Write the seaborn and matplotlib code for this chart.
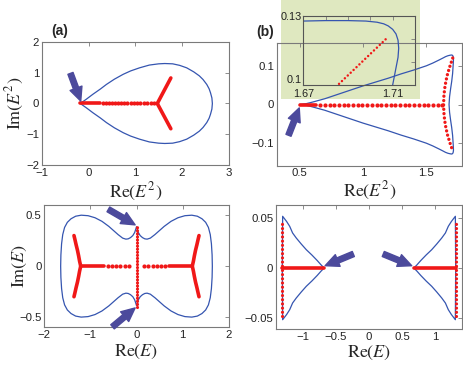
import matplotlib
matplotlib.use("Agg")
import matplotlib.pyplot as plt
import seaborn as sns
from matplotlib.patches import Rectangle

# ---------------- data ----------------
# panel (a): Re(E^2) / Im(E^2)  (upper half of teardrop, mirrored for lower half)
a_blue_x = [-0.18, -0.05, 0.09, 0.25, 0.38, 0.55, 0.74, 0.90, 1.09, 1.30, 1.50, 1.63,
            1.80, 1.95, 2.10, 2.25, 2.37, 2.45, 2.53, 2.58, 2.61, 2.64, 2.65]
a_blue_y = [0.0, 0.14, 0.30, 0.47, 0.62, 0.79, 0.95, 1.06, 1.16, 1.25, 1.29, 1.30,
            1.29, 1.24, 1.16, 1.03, 0.90, 0.78, 0.62, 0.48, 0.35, 0.18, 0.0]
a_red_solid_x = [-0.18, 0.25]
a_red_dots_x = [0.31, 0.375, 0.44, 0.505, 0.57, 0.635, 0.70, 0.765, 0.83, 0.90,
                0.97, 1.04, 1.11, 1.18, 1.25, 1.325, 1.40]
a_red_branch_x = [1.47, 1.76]
a_red_branch_up = [0.0, 0.83]
a_red_branch_dn = [0.0, -0.82]
a_arrow = [(-0.39, 0.98), (-0.17, 0.08)]

# panel (b): Re(E^2) / Im(E^2)
b_blue_x = [0.50, 0.55, 0.60, 0.70, 0.80, 0.90, 1.00, 1.10, 1.20, 1.30, 1.40, 1.50, 1.55,
            1.60, 1.63, 1.65, 1.67, 1.69, 1.70, 1.706, 1.710, 1.7124, 1.7127, 1.7116,
            1.7100, 1.706, 1.699, 1.690, 1.682, 1.678]
b_blue_y = [0.0, 0.002, 0.006, 0.015, 0.026, 0.037, 0.048, 0.058, 0.068, 0.079, 0.089,
            0.100, 0.107, 0.115, 0.120, 0.1235, 0.126, 0.1275, 0.1278, 0.1266, 0.1242,
            0.1195, 0.116, 0.108, 0.100, 0.080, 0.060, 0.040, 0.020, 0.0]
b_red_solid_x = [0.50, 0.63]
b_red_dots_x = [0.665, 0.70, 0.737, 0.774, 0.811, 0.848, 0.885, 0.922, 0.959, 0.996,
                1.033, 1.070, 1.107, 1.144, 1.181, 1.218, 1.255, 1.292, 1.329, 1.366,
                1.403, 1.440, 1.477, 1.514, 1.551, 1.588, 1.625]
b_red_arc_x = [1.707, 1.686, 1.667, 1.653, 1.643, 1.637, 1.635]
b_red_arc_y = [0.12, 0.10, 0.08, 0.06, 0.04, 0.02, 0.0]
b_arrow = [(0.413, -0.0795), (0.4976, -0.0088)]

# inset of panel (b)
ins_blue_x = [1.670, 1.680, 1.690, 1.698, 1.703, 1.706, 1.708, 1.710, 1.7115, 1.7124,
              1.7127, 1.7124, 1.7116, 1.7108, 1.7100]
ins_blue_y = [0.1278, 0.1280, 0.1280, 0.1278, 0.1273, 0.1266, 0.1257, 0.1242, 0.1222,
              0.1195, 0.1160, 0.1120, 0.1080, 0.1040, 0.1000]
ins_red_x = [1.686, 1.707]
ins_red_y = [0.1005, 0.1200]

# panel (c): Re(E) / Im(E)  (first quadrant, mirrored)
c_blue_x = [0.0, 0.04, 0.08, 0.13, 0.18, 0.23, 0.30, 0.40, 0.50, 0.60, 0.75, 0.90, 1.05,
            1.20, 1.32, 1.42, 1.50, 1.56, 1.60, 1.625, 1.64, 1.645]
c_blue_y = [0.385, 0.33, 0.30, 0.28, 0.268, 0.265, 0.275, 0.31, 0.35, 0.39, 0.44, 0.475,
            0.495, 0.50, 0.49, 0.465, 0.43, 0.38, 0.31, 0.22, 0.11, 0.0]
c_red_branch_x = [1.21, 1.235, 1.255, 1.28, 1.31, 1.335, 1.356]
c_red_branch_y = [0.0, 0.05, 0.10, 0.155, 0.21, 0.26, 0.30]
c_red_solid_x = [0.70, 1.21]
c_red_dots_x = [0.17, 0.26, 0.35, 0.44, 0.53, 0.62]
c_red_vert_y = [-0.40, 0.40]
c_arrows = [[(-0.61, 0.557), (-0.03, 0.405)], [(-0.52, -0.595), (-0.03, -0.41)]]

# panel (d): Re(E) / Im(E)  (right part, upper branch; mirrored)
d_blue_x = [0.675, 0.72, 0.78, 0.86, 0.944, 1.02, 1.095, 1.15, 1.194, 1.24, 1.30]
d_blue_y = [0.0, 0.003, 0.0075, 0.013, 0.0183, 0.024, 0.030, 0.035, 0.0417, 0.0465, 0.0517]
d_blue_side_x = 1.305
d_red_solid_x = [0.675, 1.31]
d_red_vert_x = 1.315
d_red_vert_y = [-0.048, 0.048]
d_arrows = [[(-0.236, 0.014), (-0.66, 0.0023)], [(0.215, 0.014), (0.643, 0.0023)]]

# ---------------- style ----------------
sns.set_theme(style="white")
plt.rcParams["font.family"] = ["Liberation Sans", "DejaVu Sans"]
plt.rcParams["mathtext.fontset"] = "stix"

BLUE = "#3555b0"
RED = "#f01818"
ARROW = "#4c4a9c"
SPINE = "#7a7a7a"
W, H = 463, 366

fig = plt.figure(figsize=(W / 100, H / 100), dpi=100)


def fax(l, t, r, b):
    return fig.add_axes([l / W, 1 - b / H, (r - l) / W, (b - t) / H])


def style(ax, size=8.2):
    for s in ax.spines.values():
        s.set_color(SPINE)
        s.set_linewidth(0.8)
        s.set_visible(True)
    ax.tick_params(direction="in", length=3, width=0.6, color=SPINE, top=True,
                   right=True, labelsize=size, pad=2, labelcolor="#222222")
    ax.set_xlabel("")
    ax.set_ylabel("")


def blue(ax, x, y):
    sns.lineplot(x=x, y=y, sort=False, estimator=None, color=BLUE, lw=0.9, ax=ax)


def solid(ax, x, y, lw=2.5):
    ax.plot(x, y, color=RED, lw=lw, solid_capstyle="round")


def dots(ax, x, y, s=9):
    sns.scatterplot(x=x, y=y, color=RED, s=s, linewidth=0, ax=ax)


def dotted(ax, x, y, lw=2.2, gap=0.6):
    ax.plot(x, y, color=RED, lw=lw, linestyle=(0, (0.01, gap)), dash_capstyle="round")


def arrow(ax, tail, tip):
    ax.annotate("", xy=tip, xytext=tail, annotation_clip=False,
                arrowprops=dict(arrowstyle="simple,head_length=0.7,head_width=0.65,tail_width=0.28",
                                color=ARROW, mutation_scale=14, shrinkA=0, shrinkB=0))


# green background of inset
fig.add_artist(Rectangle((280.7 / W, 1 - 99 / H), (420 - 280.7) / W, 99 / H,
                         transform=fig.transFigure, facecolor="#dfe8c0",
                         edgecolor="none", zorder=-1))

# ---- (a)
ax = fax(42, 42, 228.7, 165)
full_x = a_blue_x + a_blue_x[::-1]
full_y = a_blue_y + [-v for v in a_blue_y[::-1]]
blue(ax, full_x, full_y)
solid(ax, a_red_solid_x, [0, 0], lw=2.6)
dots(ax, a_red_dots_x, [0] * len(a_red_dots_x))
solid(ax, a_red_branch_x, a_red_branch_up, lw=2.6)
solid(ax, a_red_branch_x, a_red_branch_dn, lw=2.6)
arrow(ax, *a_arrow)
ax.set_xlim(-1, 3)
ax.set_ylim(-2, 2)
style(ax)
ax.set_xticks([-1, 0, 1, 2, 3])
ax.set_yticks([-2, -1, 0, 1, 2])
ax.tick_params(axis="x", pad=2.5)
ax.set_xlabel(r"$\mathrm{Re}(E^2)$", fontsize=13)
ax.set_ylabel(r"$\mathrm{Im}(E^2)$", fontsize=13)
ax.xaxis.set_label_coords(0.5, -0.215)
ax.xaxis.label.set_va("center")
ax.yaxis.set_label_coords(-0.145, 0.5)
ax.yaxis.label.set_va("center")

# ---- (b)
ax = fax(276.7, 43.3, 462, 165.7)
ax.set_facecolor("none")
full_x = b_blue_x + b_blue_x[::-1]
full_y = b_blue_y + [-v for v in b_blue_y[::-1]]
blue(ax, full_x, full_y)
solid(ax, b_red_solid_x, [0, 0], lw=2.6)
dots(ax, b_red_dots_x, [0] * len(b_red_dots_x))
arc_x = b_red_arc_x + b_red_arc_x[::-1][1:]
arc_y = b_red_arc_y + [-v for v in b_red_arc_y[::-1][1:]]
dotted(ax, arc_x, arc_y, lw=2.4, gap=1.3)
arrow(ax, *b_arrow)
ax.set_xlim(0.32, 1.78)
ax.set_ylim(-0.158, 0.158)
style(ax)
ax.set_xticks([0.5, 1, 1.5])
ax.set_xticklabels(["0.5", "1", "1.5"])
ax.set_yticks([-0.1, 0, 0.1])
ax.set_yticklabels(["\u22120.1", "0", "0.1"])
ax.set_xlabel(r"$\mathrm{Re}(E^2)$", fontsize=13)
ax.xaxis.set_label_coords(0.5, -0.21)
ax.xaxis.label.set_va("center")

# ---- inset
ax = fax(303.3, 16, 415, 85)
ax.set_facecolor("none")
blue(ax, ins_blue_x, ins_blue_y)
dotted(ax, ins_red_x, ins_red_y, lw=1.8, gap=1.6)
ax.set_xlim(1.67, 1.72)
ax.set_ylim(0.1, 0.13)
style(ax, size=7.8)
for s in ax.spines.values():
    s.set_color("#555555")
ax.set_xticks([1.67, 1.68, 1.69, 1.70, 1.71, 1.72])
ax.set_xticklabels(["1.67", "", "", "", "1.71", ""])
ax.set_yticks([0.10, 0.11, 0.12, 0.13])
ax.set_yticklabels(["0.1", "", "", "0.13"])
ax.tick_params(axis="y", pad=1)
ax.tick_params(axis="x", pad=3.2)
ax.get_yticklabels()[0].set_va("bottom")

# ---- (c)
ax = fax(44.3, 205, 228.7, 327.3)
q_x = c_blue_x + c_blue_x[::-1]
q_y = c_blue_y + [-v for v in c_blue_y[::-1]]
blue(ax, q_x, q_y)
blue(ax, [-v for v in q_x], q_y)
for sx in (1, -1):
    for sy in (1, -1):
        solid(ax, [sx * v for v in c_red_branch_x], [sy * v for v in c_red_branch_y], lw=2.6)
    solid(ax, [sx * v for v in c_red_solid_x], [0, 0], lw=2.6)
    dots(ax, [sx * v for v in c_red_dots_x], [0] * len(c_red_dots_x))
dotted(ax, [0, 0], c_red_vert_y, lw=2.3, gap=0.95)
for tail, tip in c_arrows:
    arrow(ax, tail, tip)
ax.set_xlim(-2, 2)
ax.set_ylim(-0.6, 0.6)
style(ax)
ax.set_xticks([-2, -1, 0, 1, 2])
ax.set_yticks([-0.5, 0, 0.5])
ax.set_yticklabels(["\u22120.5", "0", "0.5"])
ax.set_xlabel(r"$\mathrm{Re}(E)$", fontsize=13)
ax.set_ylabel(r"$\mathrm{Im}(E)$", fontsize=13)
ax.xaxis.set_label_coords(0.5, -0.205)
ax.xaxis.label.set_va("center")
ax.yaxis.set_label_coords(-0.132, 0.5)
ax.yaxis.label.set_va("center")

# ---- (d)
ax = fax(276, 205, 462, 329)
for sx in (1, -1):
    xs = [sx * v for v in d_blue_x]
    loop_x = xs + [sx * d_blue_side_x] + xs[::-1]
    loop_y = d_blue_y + [0.0] + [-v for v in d_blue_y[::-1]]
    blue(ax, loop_x, loop_y)
    solid(ax, [sx * v for v in d_red_solid_x], [0, 0], lw=2.6)
    dotted(ax, [sx * d_red_vert_x] * 2, d_red_vert_y, lw=2.3, gap=1.3)
for tail, tip in d_arrows:
    arrow(ax, tail, tip)
ax.set_xlim(-1.4, 1.4)
ax.set_ylim(-0.061, 0.063)
style(ax)
ax.set_xticks([-1, -0.5, 0, 0.5, 1])
ax.set_xticklabels(["\u22121", "\u22120.5", "0", "0.5", "1"])
ax.set_yticks([-0.05, 0, 0.05])
ax.set_yticklabels(["\u22120.05", "0", "0.05"])
ax.set_xlabel(r"$\mathrm{Re}(E)$", fontsize=13)
ax.xaxis.set_label_coords(0.5, -0.19)
ax.xaxis.label.set_va("center")

# panel letters
fig.text(60 / W, 1 - 31 / H, "(a)", ha="center", va="center", fontsize=10, fontweight="bold")
fig.text(265 / W, 1 - 32 / H, "(b)", ha="center", va="center", fontsize=10, fontweight="bold")

fig.savefig("out.png", dpi=100)
